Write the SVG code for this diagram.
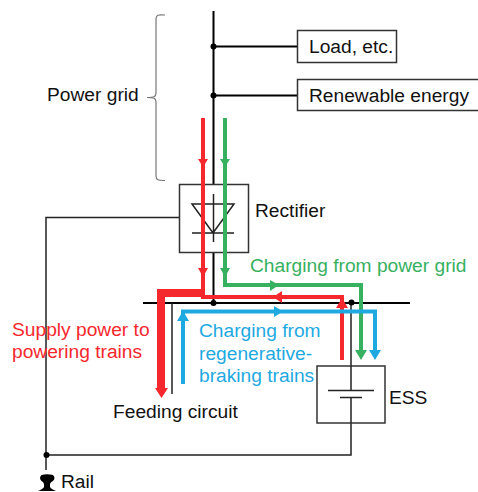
<svg xmlns="http://www.w3.org/2000/svg" width="478" height="492" viewBox="0 0 478 492">
<defs>
<style>
text{font-family:"Liberation Sans",Arial,sans-serif;font-size:19.2px;fill:#111}
.w{fill:none;stroke:#222;stroke-width:1.5}
.b{fill:none;stroke:#000;stroke-width:2}
.box{fill:#fff;stroke:#333;stroke-width:1.5}
.r{fill:none;stroke:#f5282d;stroke-width:4}
.g{fill:none;stroke:#37b060;stroke-width:4}
.c{fill:none;stroke:#1ea9e1;stroke-width:4}
.rf{fill:#f5282d}.gf{fill:#37b060}.cf{fill:#1ea9e1}
</style>
</defs>
<g id="connectors">
<path class="b" d="M213.500 11V184M213.500 46.500H298M213.500 95.500H298"/>
<path class="b" d="M213.500 252V303"/>
<path class="b" d="M143 303H410"/>
<path class="w" d="M172 303V394"/>
<path class="w" d="M179 217.500H46V470M46 455H351V397.500M351 303V390"/>
<path d="M165 15C158 14.500 156 15 156 19V93C156 97 154 97.500 147 97.500C154 97.500 156 98 156 102V176C156 180 158 180.500 165 180.500" fill="none" stroke="#777" stroke-width="1.200"/>
</g>
<g id="node-load"><rect class="box" x="297.500" y="30.500" width="99" height="32"/><text x="309" y="53">Load, etc.</text></g>
<g id="node-renewable"><rect class="box" x="297.500" y="79.500" width="182" height="31"/><text x="309" y="102">Renewable energy</text></g>
<g id="node-rectifier">
<rect class="box" x="179.500" y="184.500" width="69" height="68"/>
<path class="w" d="M213.500 194V242M192 204H234L213 233ZM192 233H234"/>
<text x="255" y="217">Rectifier</text>
</g>
<g id="node-ess">
<rect class="box" x="317" y="366" width="68" height="57"/>
<path class="w" d="M351 366V390M328 390.500H374M340 397.500H362M351 398V423"/>
<text x="389" y="404">ESS</text>
</g>
<g id="node-rail">
<path d="M41.500 475Q47 473.500 53 475Q56 478 53 481Q50.500 482 50 484V487Q51 489 56 491H38Q43 489 44 487V484Q43.500 482 41.500 481Q38.500 478 41.500 475Z" fill="#000"/>
<text x="61" y="488">Rail</text>
</g>
<g id="flows">
<path class="r" d="M203 118V297H342V360"/>
<path class="g" d="M225 118V285H361V350"/>
<path class="c" d="M183 384V311.500H375V350"/>
<path d="M203 293H161V388" fill="none" stroke="#f5282d" stroke-width="8"/>
<path class="rf" d="M198 159H208L203 167ZM198 268H208L203 277ZM155 388H168L161.500 398ZM282 291L273 297L282 303ZM336 308H348L342 298Z"/>
<path class="gf" d="M220 159H230L225 167ZM220 268H230L225 277ZM270 280L279 285L270 291ZM355 350H367L361 360Z"/>
<path class="cf" d="M177 321H189L183 311ZM369 350H381L375 360ZM274 306L283 311.500L274 317Z"/>
<circle cx="213.500" cy="46.500" r="3"/><circle cx="213.500" cy="95.500" r="3"/>
<circle cx="213.500" cy="303" r="3"/><circle cx="351.500" cy="302.500" r="3"/><circle cx="46.500" cy="455" r="3"/>
</g>
<g id="labels">
<text x="47" y="101">Power grid</text>
<text x="250" y="272" style="fill:#37b060">Charging from power grid</text>
<text x="199" y="337" style="fill:#1ea9e1">Charging from</text>
<text x="199" y="360" style="fill:#1ea9e1">regenerative-</text>
<text x="199" y="382" style="fill:#1ea9e1">braking trains</text>
<text x="12" y="336" style="fill:#f5282d">Supply power to</text>
<text x="12" y="358" style="fill:#f5282d">powering trains</text>
<text x="113" y="418">Feeding circuit</text>
</g>
</svg>
